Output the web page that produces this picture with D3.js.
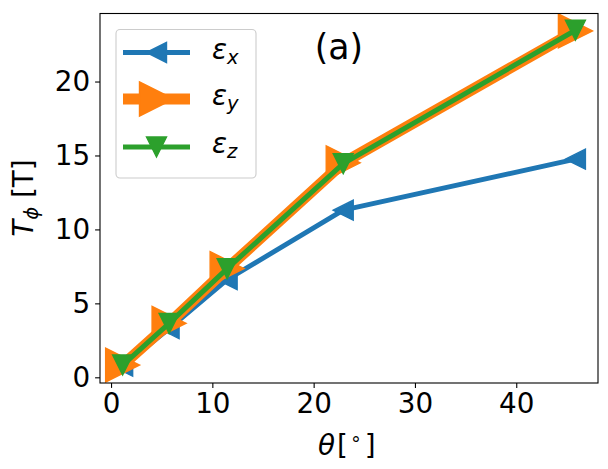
<!DOCTYPE html>
<html>
<head>
<meta charset="utf-8">
<script src="https://cdn.jsdelivr.net/npm/d3@7"></script>
<style>
  body { margin: 0; background: #fff; }
  svg { font-family: "DejaVu Sans", sans-serif; }
</style>
</head>
<body>
<svg id="chart" width="608" height="469"></svg>
<script>
// theta in degrees (0.02, 0.1, 0.2, 0.4, 0.8 rad)
var theta = [1.146, 5.73, 11.46, 22.92, 45.84];
var epsX = [0.75, 3.3, 6.6, 11.3, 14.75];
var epsY = [0.83, 3.65, 7.35, 14.5, 23.42];
var epsZ = [0.83, 3.65, 7.35, 14.45, 23.47];
var xTicks = [0, 10, 20, 30, 40];
var yTicks = [0, 5, 10, 15, 20];
var seriesNames = ['x', 'y', 'z'];

var svg = d3.select('#chart'),
    margin = {left: 100, right: 10, top: 13.5, bottom: 86},
    W = 608, H = 469,
    fs = 27.8;

var x = d3.scaleLinear().domain([-1.09, 48.07]).range([margin.left, W - margin.right]);
var y = d3.scaleLinear().domain([-0.385, 24.6]).range([H - margin.bottom, margin.top]);

// triangle marker in matplotlib style, s = full size in px
var tri = function (dir, s) {
    var h = s / 2, p;
    if (dir === 'left') p = [[-h, 0], [h, -h], [h, h]];
    else if (dir === 'right') p = [[h, 0], [-h, -h], [-h, h]];
    else p = [[0, h], [-h, -h], [h, -h]];
    return 'M' + p.map(function (d) { return d.join(','); }).join('L') + 'Z';
};

var series = [
    {key: 'x', values: epsX, color: '#1f77b4', lw: 4.9, marker: 'left', ms: 20},
    {key: 'y', values: epsY, color: '#ff7f0e', lw: 11, marker: 'right', ms: 34},
    {key: 'z', values: epsZ, color: '#2ca02c', lw: 5, marker: 'down', ms: 20}
];

svg.append('defs').append('clipPath').attr('id', 'clip')
    .append('rect')
    .attr('x', margin.left).attr('y', margin.top)
    .attr('width', W - margin.left - margin.right)
    .attr('height', H - margin.top - margin.bottom);

var plot = svg.append('g').attr('clip-path', 'url(#clip)');
var line = d3.line()
    .x(function (d) { return x(d[0]); })
    .y(function (d) { return y(d[1]); });

series.forEach(function (s) {
    var pts = theta.map(function (t, i) { return [t, s.values[i]]; });
    var g = plot.append('g');
    g.append('path')
        .datum(pts)
        .attr('d', line)
        .attr('fill', 'none')
        .attr('stroke', s.color)
        .attr('stroke-width', s.lw)
        .attr('stroke-linejoin', 'round')
        .attr('stroke-linecap', 'butt');
    g.selectAll('path.m')
        .data(pts)
        .enter().append('path')
        .attr('class', 'm')
        .attr('transform', function (d) { return 'translate(' + x(d[0]) + ',' + y(d[1]) + ')'; })
        .attr('d', tri(s.marker, s.ms))
        .attr('fill', s.color)
        .attr('stroke', s.color)
        .attr('stroke-width', 1.4)
        .attr('stroke-linejoin', 'miter');
});

// axes
var xAxis = svg.append('g')
    .attr('transform', 'translate(0,' + (H - margin.bottom) + ')')
    .call(d3.axisBottom(x).tickValues(xTicks).tickSize(4.9).tickPadding(4.9));
var yAxis = svg.append('g')
    .attr('transform', 'translate(' + margin.left + ',0)')
    .call(d3.axisLeft(y).tickValues(yTicks).tickSize(4.9).tickPadding(4.9));

[xAxis, yAxis].forEach(function (a) {
    a.select('.domain').remove();
    a.selectAll('.tick line').attr('stroke', '#000').attr('stroke-width', 1.1);
    a.selectAll('.tick text')
        .attr('fill', '#000')
        .style('font-size', fs + 'px')
        .style('font-family', '"DejaVu Sans", sans-serif');
});

// frame
svg.append('rect')
    .attr('x', margin.left).attr('y', margin.top)
    .attr('width', W - margin.left - margin.right)
    .attr('height', H - margin.top - margin.bottom)
    .attr('fill', 'none').attr('stroke', '#000').attr('stroke-width', 1.1);

// axis labels
var xl = svg.append('text')
    .attr('x', 318).attr('y', 455)
    .style('font-size', fs + 'px');
xl.append('tspan').attr('font-style', 'italic').text('θ');
xl.append('tspan').attr('dx', 2).text('[');
xl.append('tspan').attr('dx', 2).attr('dy', -10).style('font-size', '19px').text('∘');
xl.append('tspan').attr('dx', 3).attr('dy', 10).text(']');

var yl = svg.append('text')
    .attr('transform', 'translate(33,198) rotate(-90)')
    .attr('text-anchor', 'middle')
    .style('font-size', fs + 'px');
yl.append('tspan').attr('font-style', 'italic').text('T');
yl.append('tspan').attr('font-style', 'italic').attr('dy', 5).style('font-size', '19.5px').text('ϕ');
yl.append('tspan').attr('dy', -5).text(' [T]');

// panel label
svg.append('text')
    .attr('x', 339).attr('y', 58.5)
    .attr('text-anchor', 'middle')
    .style('font-size', '34.7px')
    .text('(a)');

// legend
var legend = svg.append('g');
legend.append('rect')
    .attr('x', 116).attr('y', 29.5)
    .attr('width', 140).attr('height', 148.5)
    .attr('rx', 4).attr('ry', 4)
    .attr('fill', '#fff').attr('fill-opacity', 0.8)
    .attr('stroke', '#cccccc').attr('stroke-width', 1.1);

var rowY = [52.5, 99, 147];
series.forEach(function (s, i) {
    var g = legend.append('g').attr('transform', 'translate(0,' + rowY[i] + ')');
    g.append('line')
        .attr('x1', 123).attr('x2', 190)
        .attr('stroke', s.color).attr('stroke-width', s.lw);
    g.append('path')
        .attr('transform', 'translate(156.5,0)')
        .attr('d', tri(s.marker, s.ms))
        .attr('fill', s.color)
        .attr('stroke', s.color).attr('stroke-width', 1.4);
    var t = g.append('text')
        .attr('x', 212).attr('y', 6)
        .style('font-size', fs + 'px')
        .attr('font-style', 'italic');
    t.append('tspan').text('ε');
    t.append('tspan').attr('dy', 5).style('font-size', '19.5px').text(seriesNames[i]);
});
</script>
</body>
</html>
